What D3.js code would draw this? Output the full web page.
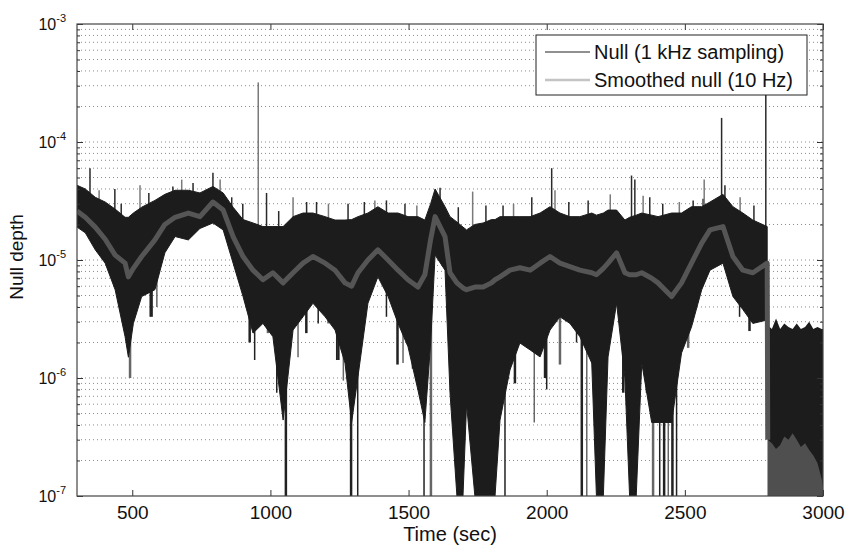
<!DOCTYPE html>
<html>
<head>
<meta charset="utf-8">
<script src="https://cdn.jsdelivr.net/npm/d3@7"></script>
<style>
  body { margin: 0; background: #fff; }
  svg text { font-family: "Liberation Sans", Arial, Helvetica, sans-serif; fill: #111; }
</style>
</head>
<body>
<svg id="chart"></svg>
<script>
// ---- data ----
// dense 1 kHz band: upper / lower edge, and the 10 Hz smoothed curve
const time = [300,330,366,402,438,474,486,504,534,582,618,655,703,745,792,829,865,901,937,973,
  1009,1046,1082,1118,1154,1198,1234,1270,1294,1317,1353,1389,1426,1462,1498,1534,1559,1580,1596,1632,
  1650,1675,1697,1710,1740,1770,1800,1813,1831,1867,1903,1940,1976,2012,2048,2084,2120,2163,2180,2205,
  2222,2253,2283,2300,2324,2344,2380,2403,2452,2488,2524,2561,2591,2638,2674,2710,2746,2798];
const nullUpper = [4.3e-5,4.0e-5,3.4e-5,3.1e-5,2.7e-5,2.3e-5,2.3e-5,2.5e-5,2.8e-5,3.2e-5,3.6e-5,3.9e-5,3.9e-5,3.7e-5,4.2e-5,3.7e-5,2.8e-5,2.2e-5,2.06e-5,1.92e-5,
  1.92e-5,1.92e-5,2.33e-5,2.5e-5,2.5e-5,2.33e-5,2.18e-5,2.18e-5,2.2e-5,2.33e-5,2.5e-5,2.83e-5,2.5e-5,2.5e-5,2.33e-5,2.33e-5,2.18e-5,3.0e-5,4.0e-5,2.83e-5,
  2.33e-5,2.1e-5,1.9e-5,1.8e-5,2.0e-5,2.06e-5,2.2e-5,2.2e-5,2.33e-5,2.33e-5,2.33e-5,2.33e-5,2.5e-5,2.83e-5,2.5e-5,2.33e-5,2.33e-5,2.5e-5,2.4e-5,2.5e-5,
  2.65e-5,2.65e-5,2.18e-5,2.3e-5,2.4e-5,2.5e-5,2.4e-5,2.33e-5,2.5e-5,2.5e-5,2.83e-5,2.83e-5,3.1e-5,3.6e-5,2.83e-5,2.5e-5,2.18e-5,1.92e-5];
const nullLower = [1.9e-5,1.7e-5,1.22e-5,9.4e-6,5.6e-6,2.24e-6,1.5e-6,2.9e-6,4.9e-6,5.6e-6,1.15e-5,1.58e-5,1.48e-5,1.85e-5,2.06e-5,1.8e-5,9.4e-6,4.9e-6,2.4e-6,2.9e-6,
  2.24e-6,4.4e-7,2.55e-6,3.3e-6,4.3e-6,3.3e-6,2.55e-6,1.34e-6,4.2e-7,1.03e-6,4.3e-6,7.2e-6,4.9e-6,2.9e-6,1.84e-6,7.9e-7,4.2e-7,2.0e-6,1.1e-5,8.2e-6,
  7.5e-7,1e-7,1e-7,6e-7,1e-7,1e-7,1e-7,1e-7,4.4e-7,1.17e-6,1.98e-6,1.73e-6,1.51e-6,2.55e-6,3.3e-6,2.9e-6,2.24e-6,1.34e-6,1e-7,1e-7,
  1.51e-6,4.3e-6,1.0e-6,1e-7,1e-7,1.34e-6,4.2e-7,4.2e-7,4.2e-7,1.63e-6,2.7e-6,5.6e-6,8.2e-6,9.4e-6,4.9e-6,3.8e-6,2.9e-6,3.1e-6];
const smooth = [2.6e-5,2.3e-5,1.9e-5,1.5e-5,1.1e-5,9.4e-6,7.2e-6,8.5e-6,1.07e-5,1.48e-5,2.0e-5,2.3e-5,2.5e-5,2.33e-5,3.1e-5,2.65e-5,1.58e-5,1.07e-5,8.2e-6,6.8e-6,
  7.8e-6,6.4e-6,7.8e-6,9.4e-6,1.07e-5,9.4e-6,8.2e-6,6.4e-6,6.0e-6,7.8e-6,1.0e-5,1.22e-5,1.0e-5,8.2e-6,6.8e-6,5.9e-6,7.5e-6,1.5e-5,2.33e-5,1.58e-5,
  7.8e-6,6.4e-6,5.8e-6,5.6e-6,5.9e-6,5.9e-6,6.4e-6,6.8e-6,7.2e-6,8.2e-6,8.6e-6,8.2e-6,9.4e-6,1.07e-5,9.4e-6,8.8e-6,8.2e-6,7.8e-6,7.5e-6,8.5e-6,
  9.4e-6,1.15e-5,7.8e-6,7.5e-6,7.5e-6,7.8e-6,7.0e-6,6.4e-6,4.9e-6,6.4e-6,9.4e-6,1.39e-5,1.8e-5,1.92e-5,1.07e-5,8.2e-6,7.8e-6,9.4e-6];

// after 2800 s the signal drops to the floor
const tailTime = [2800,2815,2830,2845,2860,2875,2890,2905,2920,2935,2950,2965,2980,2995,3000];
const tailUpper = [2.8e-6,2.6e-6,3.2e-6,2.6e-6,2.9e-6,2.7e-6,2.6e-6,2.9e-6,2.6e-6,2.7e-6,3.0e-6,2.6e-6,2.7e-6,2.6e-6,2.6e-6];
const tailSmooth = [3.0e-7,2.8e-7,2.5e-7,2.7e-7,3.2e-7,3.0e-7,3.4e-7,3.0e-7,2.6e-7,2.8e-7,2.45e-7,2.2e-7,1.9e-7,1.4e-7,1.2e-7];

// isolated spikes up and dips down
const spikeTime = [347,380,437,460,528,560,647,679,720,792,818,860,900,956,986,1030,1082,1131,1167,1210,
  1281,1340,1378,1420,1487,1530,1614,1680,1732,1780,1842,1880,1946,2018,2030,2080,2150,2230,2307,2319,
  2349,2373,2420,2480,2530,2566,2570,2633,2645,2700,2750,2793];
const spikeValue = [6e-5,3.9e-5,4e-5,3e-5,4.3e-5,3.7e-5,4.2e-5,4.8e-5,4.5e-5,5.5e-5,4.8e-5,3.4e-5,3.0e-5,3.2e-4,3.7e-5,2.6e-5,3.4e-5,3.1e-5,3.1e-5,3.0e-5,
  3.0e-5,3.1e-5,3.2e-5,3.2e-5,3.0e-5,2.9e-5,4.1e-5,2.8e-5,3.8e-5,2.9e-5,2.9e-5,3.0e-5,3.4e-5,6e-5,3.9e-5,3.1e-5,3.2e-5,3.6e-5,5.2e-5,4.8e-5,
  3.5e-5,3.4e-5,3.0e-5,3.1e-5,3.2e-5,3.3e-5,4.8e-5,1.6e-4,4.3e-5,3.4e-5,2.9e-5,5e-4];
const dipTime = [394,461,492,565,570,589,925,943,991,1023,1056,1100,1130,1173,1210,1240,1246,1264,1292,1316,
  1335,1420,1460,1480,1516,1556,1581,1849,1885,1955,1994,2000,2048,2108,2127,2145,2277,2361,2385,2409,
  2425,2440,2455,2470,2512,2698,2734];
const dipValue = [1.07e-5,3.8e-6,1.0e-6,3.3e-6,3.3e-6,4.0e-6,2.0e-6,1.42e-6,2.4e-6,7.5e-7,1e-7,1.5e-6,2.4e-6,2.9e-6,2.9e-6,1.42e-6,1.42e-6,9.5e-7,1e-7,1e-7,
  2.5e-6,3.3e-6,1.3e-6,1.34e-6,1.2e-6,1e-7,1e-7,1e-7,9e-7,4.2e-7,1.0e-6,8e-7,1.3e-6,2.0e-6,1e-7,1e-7,7.5e-7,7.5e-7,1e-7,1e-7,
  1e-7,1e-7,1e-7,1e-7,1.8e-6,3.3e-6,2.5e-6];

const xTicks = [500,1000,1500,2000,2500,3000];
const yDecades = [-7,-6,-5,-4,-3];
const legendLabels = ["Null (1 kHz sampling)", "Smoothed null (10 Hz)"];

// ---- layout ----
const width = 848, height = 550;
const mLeft = 77, mRight = 823, mTop = 24, mBottom = 496;

const svg = d3.select("#chart").attr("width", width).attr("height", height);

const x = d3.scaleLinear().domain([300, 3000]).range([mLeft, mRight]);
const y = d3.scaleLog().domain([1e-7, 1e-3]).range([mBottom, mTop]);

const majors = yDecades.map(k => Math.pow(10, k));
const minors = [];
yDecades.slice(0, -1).forEach(k => {
  for (let m = 2; m <= 9; m++) minors.push(m * Math.pow(10, k));
});

// grid (horizontal only, dotted)
svg.append("g").selectAll("line")
  .data(majors.concat(minors).filter(v => v > 1e-7 && v < 1e-3))
  .enter().append("line")
  .attr("x1", mLeft).attr("x2", mRight)
  .attr("y1", d => y(d)).attr("y2", d => y(d))
  .attr("stroke", "#8a8a8a")
  .attr("stroke-width", 1)
  .attr("stroke-dasharray", "1,3");

// clip to plot area
svg.append("clipPath").attr("id", "clip")
  .append("rect").attr("x", mLeft).attr("y", mTop)
  .attr("width", mRight - mLeft).attr("height", mBottom - mTop);
const plot = svg.append("g").attr("clip-path", "url(#clip)");

const band = time.map((t, i) => ({ t, hi: nullUpper[i], lo: nullLower[i] }));
const tail = tailTime.map((t, i) => ({ t, hi: tailUpper[i], s: tailSmooth[i] }));
const smoothAt = d3.scaleLinear().domain(time).range(smooth).clamp(true);

const area = d3.area()
  .x(d => x(d.t))
  .y0(d => y(d.lo))
  .y1(d => y(d.hi));

// spikes
plot.append("g").selectAll("line")
  .data(spikeTime.map((t, i) => ({ t, v: spikeValue[i] })))
  .enter().append("line")
  .attr("x1", d => x(d.t)).attr("x2", d => x(d.t))
  .attr("y1", d => y(d.v)).attr("y2", d => y(smoothAt(d.t)))
  .attr("stroke", (d, i) => i % 3 === 1 ? "#7a7a7a" : "#2a2a2a")
  .attr("stroke-width", 1.5);

// dips
plot.append("g").selectAll("line")
  .data(dipTime.map((t, i) => ({ t, v: dipValue[i] })))
  .enter().append("line")
  .attr("x1", d => x(d.t)).attr("x2", d => x(d.t))
  .attr("y1", d => y(Math.max(d.v, 1e-7))).attr("y2", d => y(smoothAt(d.t)))
  .attr("stroke", (d, i) => i % 3 === 2 ? "#666" : "#222")
  .attr("stroke-width", (d, i) => i % 2 ? 1.5 : 2.5);

plot.append("path").datum(band)
  .attr("d", area)
  .attr("fill", "#1c1c1c")
  .attr("stroke", "#1c1c1c")
  .attr("stroke-width", 1);

// tail block after 2800 s
plot.append("path").datum(tail)
  .attr("d", d3.area().x(d => x(d.t)).y0(mBottom + 5).y1(d => y(d.hi)))
  .attr("fill", "#1c1c1c");
plot.append("path").datum(tail)
  .attr("d", d3.area().x(d => x(d.t)).y0(mBottom + 5).y1(d => y(d.s)))
  .attr("fill", "#4f4f4f");

// smoothed null
plot.append("path")
  .datum(time.map((t, i) => [t, smooth[i]]).concat([[tailTime[0], tailSmooth[0]]]))
  .attr("d", d3.line().x(d => x(d[0])).y(d => y(d[1])))
  .attr("fill", "none")
  .attr("stroke", "#555")
  .attr("stroke-width", 5)
  .attr("stroke-linejoin", "round");

// ---- axes ----
const tickStyle = g => {
  g.select(".domain").remove();
  g.selectAll(".tick line").attr("stroke", "#333");
};

svg.append("g").attr("transform", `translate(0,${mBottom})`)
  .call(d3.axisBottom(x).tickValues(xTicks).tickSize(-6).tickPadding(10).tickFormat(d3.format("d")))
  .call(tickStyle)
  .call(g => g.selectAll("text").attr("font-size", 19).attr("fill", "#111"));
svg.append("g").attr("transform", `translate(0,${mTop})`)
  .call(d3.axisTop(x).tickValues(xTicks).tickSize(-6).tickFormat(""))
  .call(tickStyle);

svg.append("g").attr("transform", `translate(${mLeft},0)`)
  .call(d3.axisLeft(y).tickValues(majors).tickSize(-6).tickFormat(""))
  .call(tickStyle);
svg.append("g").attr("transform", `translate(${mLeft},0)`)
  .call(d3.axisLeft(y).tickValues(minors).tickSize(-3).tickFormat(""))
  .call(tickStyle);
svg.append("g").attr("transform", `translate(${mRight},0)`)
  .call(d3.axisRight(y).tickValues(majors).tickSize(-6).tickFormat(""))
  .call(tickStyle);
svg.append("g").attr("transform", `translate(${mRight},0)`)
  .call(d3.axisRight(y).tickValues(minors).tickSize(-3).tickFormat(""))
  .call(tickStyle);

// y tick labels 10^k
const yLab = svg.append("g").selectAll("text")
  .data(yDecades).enter().append("text")
  .attr("x", mLeft - 11)
  .attr("y", d => y(Math.pow(10, d)) + 6)
  .attr("text-anchor", "end")
  .attr("font-size", 16);
yLab.append("tspan").text("10");
yLab.append("tspan").attr("dy", -8).attr("font-size", 11).text(d => String(d));

// box
svg.append("rect")
  .attr("x", mLeft).attr("y", mTop)
  .attr("width", mRight - mLeft).attr("height", mBottom - mTop)
  .attr("fill", "none").attr("stroke", "#444").attr("stroke-width", 1.2);

// axis titles
svg.append("text")
  .attr("x", (mLeft + mRight) / 2).attr("y", 541)
  .attr("text-anchor", "middle").attr("font-size", 20)
  .text("Time (sec)");
svg.append("text")
  .attr("transform", "translate(23,257) rotate(-90)")
  .attr("text-anchor", "middle").attr("font-size", 19)
  .text("Null depth");

// ---- legend ----
const lg = svg.append("g");
lg.append("rect")
  .attr("x", 536).attr("y", 35).attr("width", 271).attr("height", 60)
  .attr("fill", "#fff").attr("stroke", "#222").attr("stroke-width", 1);
const legendColors = ["#222", "#c4c4c4"];
const legendWidths = [1.2, 2.5];
legendLabels.forEach((lab, i) => {
  const cy = 52 + i * 28;
  lg.append("line").attr("x1", 545).attr("x2", 590).attr("y1", cy).attr("y2", cy)
    .attr("stroke", legendColors[i]).attr("stroke-width", legendWidths[i]);
  lg.append("text").attr("x", 594).attr("y", cy + 7).attr("font-size", 20).text(lab);
});
</script>
</body>
</html>
